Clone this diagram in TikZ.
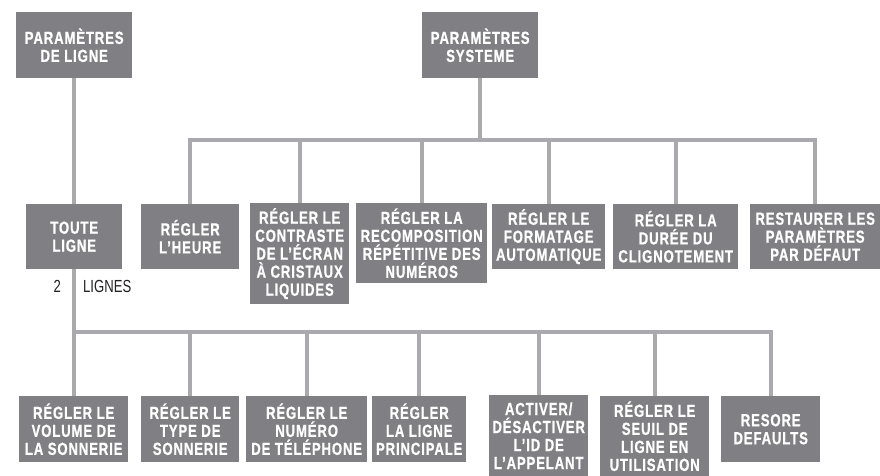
\documentclass[tikz,border=0pt]{standalone}
\usepackage{fontspec}
\setmainfont{Liberation Sans}
\newfontfamily\menufont[FakeStretch=0.75,LetterSpace=5,BoldFeatures={FakeBold=0.8}]{Liberation Sans}
\newfontfamily\notefont[FakeStretch=0.75]{Liberation Sans}
\definecolor{boxgray}{RGB}{128,128,132}
\definecolor{linkgray}{RGB}{170,170,174}
\definecolor{notetext}{RGB}{35,31,32}
\tikzset{
    menubox/.style={fill=boxgray, text=white, align=center, inner sep=0pt,
        anchor=north west, font=\menufont\bfseries\fontsize{17.5}{18}\selectfont},
    link/.style={draw=linkgray, line width=4pt},
    note/.style={text=notetext, inner sep=0pt,
        font=\notefont\fontsize{17.5}{18}\selectfont},
}
% name, left, top, width, height, text
\newcommand{\menuitem}[6]{
    \node[menubox, minimum width=#4pt, minimum height=#5pt] (#1) at (#2,#3) {#6};
}
\begin{document}
\begin{tikzpicture}[x=1pt,y=-1pt]
    \useasboundingbox (0,0) rectangle (880,476);

    % top level
    \menuitem{ligne}{16}{12}{116}{66}{PARAMÈTRES\\DE LIGNE}
    \menuitem{systeme}{422}{12}{116}{66}{PARAMÈTRES\\SYSTEME}

    % system settings
    \menuitem{toute}{26}{204}{96}{65}{TOUTE\\LIGNE}
    \menuitem{heure}{141}{204}{98}{65}{RÉGLER\\L’HEURE}
    \menuitem{contraste}{250}{203}{99}{101}{RÉGLER LE\\CONTRASTE\\DE L’ÉCRAN\\À CRISTAUX\\LIQUIDES}
    \menuitem{recomp}{356}{203}{131}{80}{RÉGLER LA\\RECOMPOSITION\\RÉPÉTITIVE DES\\NUMÉROS}
    \menuitem{formatage}{492}{204}{113}{65}{RÉGLER LE\\FORMATAGE\\AUTOMATIQUE}
    \menuitem{clignot}{613}{204}{125}{65}{RÉGLER LA\\DURÉE DU\\CLIGNOTEMENT}
    \menuitem{restaurer}{750}{204}{130}{65}{RESTAURER LES\\PARAMÈTRES\\PAR DÉFAUT}

    % line settings
    \menuitem{volume}{19}{396}{109}{66}{RÉGLER LE\\VOLUME DE\\LA SONNERIE}
    \menuitem{typeson}{141}{396}{98}{66}{RÉGLER LE\\TYPE DE\\SONNERIE}
    \menuitem{numero}{246}{396}{121}{66}{RÉGLER LE\\NUMÉRO\\DE TÉLÉPHONE}
    \menuitem{principale}{372}{396}{94}{66}{RÉGLER\\LA LIGNE\\PRINCIPALE}
    \menuitem{appelant}{489}{395}{99}{81}{ACTIVER/\\DÉSACTIVER\\L’ID DE\\L’APPELANT}
    \menuitem{seuil}{600}{396}{109}{80}{RÉGLER LE\\SEUIL DE\\LIGNE EN\\UTILISATION}
    \menuitem{resore}{721}{396}{99}{66}{RESORE\\DEFAULTS}

    \node[note, anchor=base east] (deux) at (61,292) {2};
    \node[note, anchor=base west] (lignes) at (83,292) {LIGNES};

    \coordinate (sysbar) at (479,140);
    \coordinate (lignebar) at (74,332);

    \draw[link] (ligne.south) -- (toute.north);
    \foreach \n in {heure,contraste,recomp,formatage,clignot,restaurer}
        \draw[link] (systeme.south) -- (systeme.south |- sysbar) -| (\n.north);
    \foreach \n in {volume,typeson,numero,principale,appelant,seuil,resore}
        \draw[link] (toute.south) -- (toute.south |- lignebar) -| (\n.north);
\end{tikzpicture}
\end{document}
